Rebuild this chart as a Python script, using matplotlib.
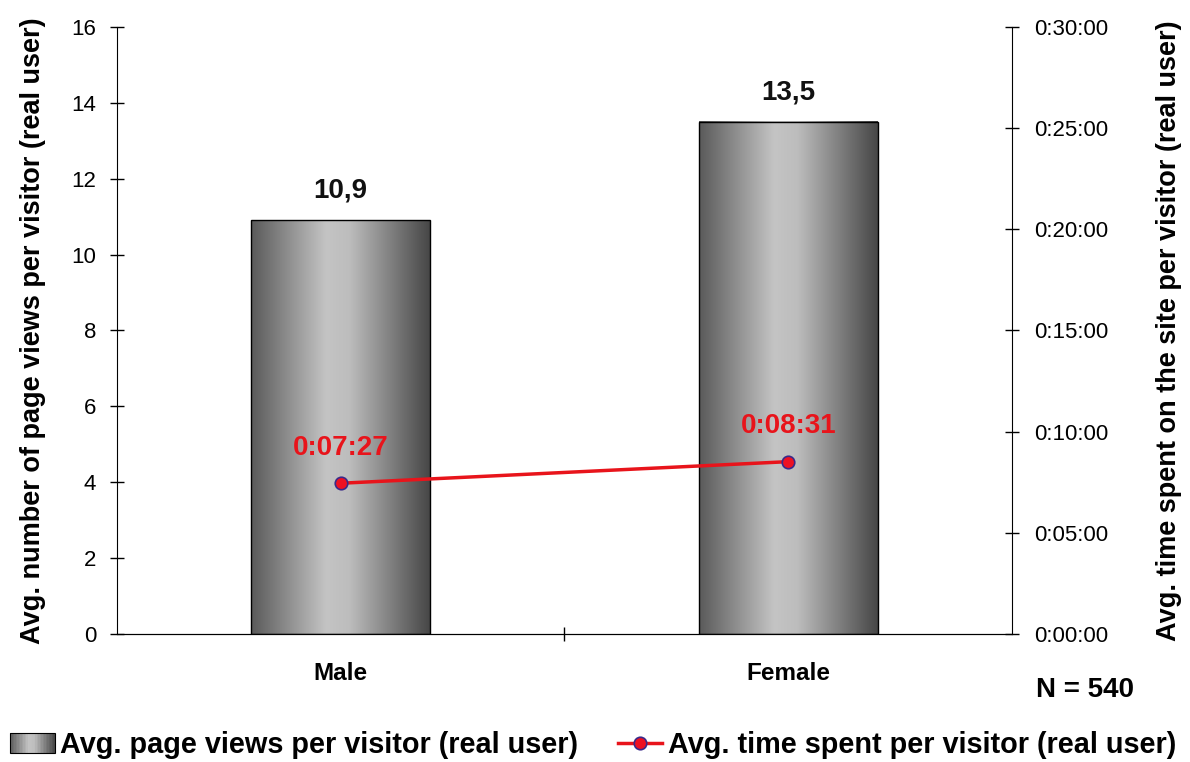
import matplotlib
matplotlib.use("Agg")
import matplotlib.pyplot as plt
import numpy as np
from matplotlib.colors import LinearSegmentedColormap
from matplotlib.patches import Rectangle
from matplotlib.legend_handler import HandlerBase
from matplotlib.ticker import FuncFormatter, MultipleLocator, FixedLocator

plt.rcParams['font.family'] = ['Liberation Sans', 'DejaVu Sans']

# data
categories = ['Male', 'Female']
page_views = [10.9, 13.5]
page_labels = ['10,9', '13,5']
time_spent = [447, 511]  # seconds: 0:07:27, 0:08:31
time_labels = ['0:07:27', '0:08:31']

# grey cylinder-like shading
grad_cmap = LinearSegmentedColormap.from_list(
    'bar', [(0.0, '#5a5a5a'), (0.42, '#c4c4c4'), (0.55, '#bdbdbd'), (1.0, '#474747')])


class GradHandler(HandlerBase):
    def create_artists(self, legend, orig_handle, xdescent, ydescent, width, height, fontsize, trans):
        n = 30
        arts = []
        for i in range(n):
            r = Rectangle((-xdescent + i * width / n, -ydescent), width / n + 0.3, height,
                          facecolor=grad_cmap((i + 0.5) / n), edgecolor='none', transform=trans)
            arts.append(r)
        arts.append(Rectangle((-xdescent, -ydescent), width, height, facecolor='none',
                              edgecolor='black', lw=0.8, transform=trans))
        return arts


fig = plt.figure(figsize=(11.9, 7.62), dpi=100)
ax = fig.add_axes([0.0983, 0.168, 0.7521, 0.7966])

x = np.arange(len(categories))
bars = ax.bar(x, page_views, 0.4, facecolor='none', edgecolor='black', lw=1, zorder=3)
gradient = np.linspace(0, 1, 256).reshape(1, -1)
for b in bars:
    bx, by, bw, bh = b.get_x(), b.get_y(), b.get_width(), b.get_height()
    ax.imshow(gradient, cmap=grad_cmap, extent=[bx, bx + bw, by, by + bh],
              aspect='auto', zorder=2, interpolation='bilinear')
for xi, v, lab in zip(x, page_views, page_labels):
    ax.annotate(lab, (xi, v), xytext=(0, 12), textcoords='offset points',
                ha='center', va='bottom', fontsize=20, fontweight='bold', color='#111111')

ax.set_xlim(-0.5, 1.5)
ax.set_ylim(0, 16)
ax.yaxis.set_major_locator(MultipleLocator(2))
ax.set_xticks(x)
ax.set_xticklabels(categories, fontsize=17.5, fontweight='bold')
ax.xaxis.set_minor_locator(FixedLocator([0.5]))
ax.tick_params(axis='x', which='major', length=0, pad=20)
ax.tick_params(axis='x', which='minor', direction='inout', length=10, width=1)
ax.tick_params(axis='y', direction='inout', length=10, width=1, labelsize=16, pad=10)
ax.spines['top'].set_visible(False)
ax.spines['right'].set_visible(False)
ax.set_ylabel('Avg. number of page views per visitor (real user)', fontsize=19.5,
              fontweight='bold', labelpad=18)

ax2 = ax.twinx()
ax2.plot(x, time_spent, color='#e8141b', lw=2.5, marker='o', markersize=9,
         markerfacecolor='#ee1122', markeredgecolor='#3a2a8a', markeredgewidth=1.2)
for xi, v, lab in zip(x, time_spent, time_labels):
    ax2.annotate(lab, (xi, v), xytext=(0, 16), textcoords='offset points',
                 ha='center', va='bottom', fontsize=20, fontweight='bold', color='#e8141b')
ax2.set_ylim(0, 1800)
ax2.yaxis.set_major_locator(MultipleLocator(300))
ax2.yaxis.set_major_formatter(FuncFormatter(
    lambda s, p: '%d:%02d:%02d' % (s // 3600, (s % 3600) // 60, s % 60)))
ax2.tick_params(axis='y', direction='inout', length=10, width=1, labelsize=16, pad=11)
ax2.spines['top'].set_visible(False)
ax2.spines['left'].set_visible(False)
ax2.set_ylabel('Avg. time spent on the site per visitor (real user)', fontsize=19.5,
               fontweight='bold', labelpad=34)

fig.text(0.912, 1 - 690 / 762, 'N = 540', fontsize=20, fontweight='bold',
         ha='center', va='center')

h_bar = Rectangle((0, 0), 1, 1)
h_line = ax2.get_lines()[0]
fig.legend([h_bar, h_line],
           ['Avg. page views per visitor (real user)', 'Avg. time spent per visitor (real user)'],
           handler_map={Rectangle: GradHandler()},
           loc='center left', bbox_to_anchor=(0.001, 1 - 745 / 762), ncol=2, frameon=False,
           prop={'size': 20.8, 'weight': 'bold'}, handlelength=1.55, handletextpad=0.2,
           columnspacing=1.35, borderaxespad=0.0, borderpad=0.3)

fig.savefig('out.png', dpi=100)
